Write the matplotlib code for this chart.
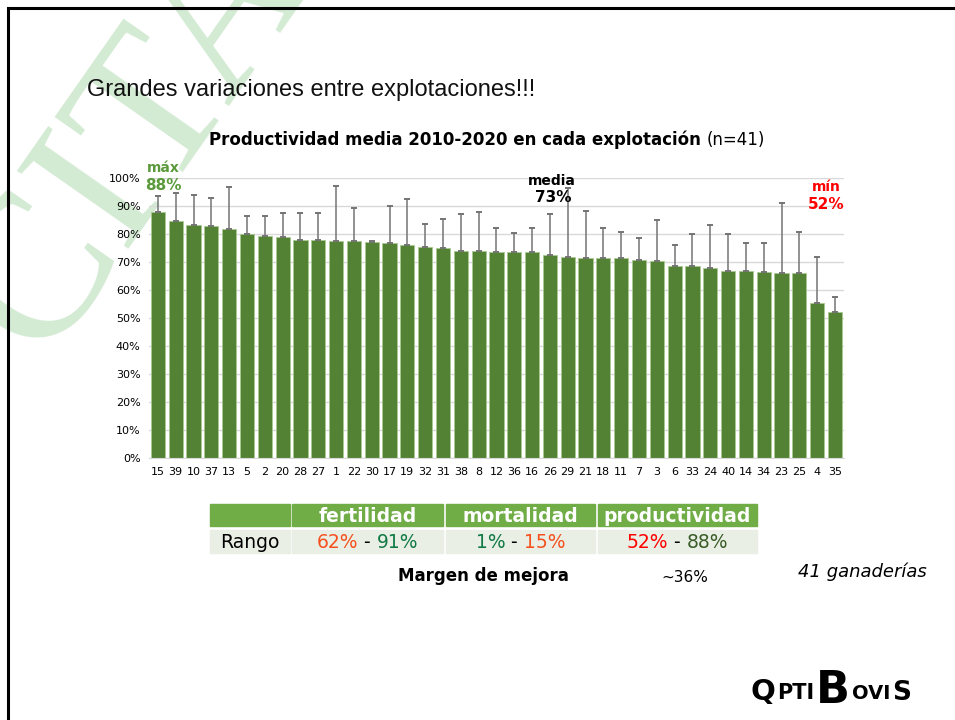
import matplotlib
matplotlib.use('Agg')
import matplotlib.pyplot as plt
from matplotlib.patches import Rectangle
from matplotlib.ticker import FuncFormatter

# datos
explotaciones = ['15', '39', '10', '37', '13', '5', '2', '20', '28', '27', '1', '22', '30',
                 '17', '19', '32', '31', '38', '8', '12', '36', '16', '26', '29', '21', '18',
                 '11', '7', '3', '6', '33', '24', '40', '14', '34', '23', '25', '4', '35']
productividad = [88.0, 84.8, 83.5, 83.0, 81.8, 80.2, 79.4, 79.0, 78.1, 77.9, 77.6, 77.5, 77.3,
                 76.8, 76.2, 75.4, 75.0, 74.0, 73.9, 73.8, 73.7, 73.6, 72.5, 72.0, 71.5, 71.5,
                 71.4, 71.0, 70.4, 68.8, 68.6, 68.0, 66.9, 66.8, 66.4, 66.2, 66.2, 55.4, 52.3]
desviacion = [5.6, 10.1, 10.7, 10.0, 15.1, 6.3, 7.3, 8.7, 9.4, 9.8, 19.5, 11.8, 0.2,
              13.2, 16.5, 8.4, 10.6, 13.3, 14.0, 8.6, 6.7, 8.5, 14.9, 24.4, 17.0, 10.8,
              9.4, 7.6, 14.8, 7.5, 11.4, 15.5, 13.1, 10.0, 10.4, 24.9, 14.5, 16.6, 5.4]
yticks = [0, 10, 20, 30, 40, 50, 60, 70, 80, 90, 100]

cabecera = ['fertilidad', 'mortalidad', 'productividad']
rango_min = ['62%', '1%', '52%']
rango_max = ['91%', '15%', '88%']
color_min = ['#f4511e', '#117a45', '#ff0000']
color_max = ['#117a45', '#f4511e', '#3a5d27']

W, H = 955, 720
fig = plt.figure(figsize=(9.55, 7.2), dpi=100)

def fx(px):
    return px / W

def fy(py):
    return 1 - py / H

# marco de la diapositiva
fig.patches.append(Rectangle((fx(8), fy(760)), fx(1000), fy(8) - fy(760), transform=fig.transFigure,
                             fill=False, edgecolor='black', linewidth=2.2, zorder=0))

# marca de agua
fig.text(fx(135), fy(140), 'CITA', rotation=55, fontsize=150, color='#d3ead3',
         family='Liberation Serif', ha='center', va='center', zorder=-1)

fig.text(fx(87), fy(90), 'Grandes variaciones entre explotaciones!!!', fontsize=17,
         family='Liberation Sans', va='center', ha='left', color='#111111')

# titulo del grafico
t1 = fig.text(fx(209), fy(140), 'Productividad media 2010-2020 en cada explotación ',
              fontsize=12, fontweight='bold', va='center', ha='left')
fig.canvas.draw()
r = fig.canvas.get_renderer()
bb = t1.get_window_extent(r)
fig.text(bb.x1 / W, fy(140), '(n=41)', fontsize=12, va='center', ha='left')

ax = fig.add_axes([fx(149), fy(458.3), fx(843.9 - 149), (458.3 - 178.3) / H])
ax.patch.set_alpha(0)
x = range(len(explotaciones))
ax.bar(x, productividad, width=0.8, color='#548235', edgecolor='#a9c98f', linewidth=0.6, zorder=2)
ax.errorbar(x, productividad, yerr=[[0] * len(desviacion), desviacion], fmt='none',
            ecolor='#747474', elinewidth=1.1, capsize=2.4, capthick=1.4, zorder=3)
ax.set_xlim(-0.5, len(explotaciones) - 0.5)
ax.set_ylim(0, 100)
ax.set_yticks(yticks)
ax.yaxis.set_major_formatter(FuncFormatter(lambda v, p: '%d%%' % v))
ax.set_xticks(list(x))
ax.set_xticklabels(explotaciones)
ax.tick_params(length=0, labelsize=8, pad=6)
ax.grid(axis='y', color='#d9d9d9', linewidth=1, zorder=0)
for s in ['top', 'right', 'left']:
    ax.spines[s].set_visible(False)
ax.spines['bottom'].set_color('#d9d9d9')

ax.text(0.3, 103.5, 'máx', color='#5b9a3a', fontsize=10, fontweight='bold', ha='center', va='center', clip_on=False)
ax.text(0.3, 97.5, '88%', color='#5b9a3a', fontsize=11, fontweight='bold', ha='center', va='center', clip_on=False)
ax.text(22.1, 99.0, 'media', color='black', fontsize=10, fontweight='bold', ha='center', va='center', clip_on=False)
ax.text(22.2, 93.2, '73%', color='black', fontsize=11, fontweight='bold', ha='center', va='center', clip_on=False)
ax.text(37.5, 96.8, 'mín', color='#ff0000', fontsize=10, fontweight='bold', ha='center', va='center', clip_on=False)
ax.text(37.5, 90.5, '52%', color='#ff0000', fontsize=11, fontweight='bold', ha='center', va='center', clip_on=False)

# tabla
cols = [(210, 290), (292, 443), (446, 595), (598, 757)]
for i, (a, b) in enumerate(cols):
    fig.patches.append(Rectangle((fx(a), fy(526)), fx(b - a), (526 - 504) / H, transform=fig.transFigure,
                                 color='#70ad47', zorder=1))
    fig.patches.append(Rectangle((fx(a), fy(553)), fx(b - a), (553 - 530) / H, transform=fig.transFigure,
                                 color='#e9efe5', zorder=1))
    if i > 0:
        fig.text(fx((a + b) / 2), fy(516), cabecera[i - 1], color='white', fontsize=13.5,
                 fontweight='bold', ha='center', va='center')
fig.text(fx(250), fy(542), 'Rango', fontsize=13.5, ha='center', va='center')


def texto_color(cx, cy, partes, **kw):
    objs = []
    for txt, col in partes:
        objs.append(fig.text(0, fy(cy), txt, color=col, ha='left', va='center', **kw))
    ws = [o.get_window_extent(r).width for o in objs]
    x0 = cx - sum(ws) / 2
    for o, w in zip(objs, ws):
        o.set_x(fx(x0))
        x0 += w


for i in range(3):
    a, b = cols[i + 1]
    texto_color((a + b) / 2, 542, [(rango_min[i], color_min[i]), (' - ', 'black'),
                                   (rango_max[i], color_max[i])], fontsize=13.5)

fig.text(fx(483), fy(576), 'Margen de mejora', fontsize=12, fontweight='bold', ha='center', va='center')
fig.text(fx(685), fy(577), '~36%', fontsize=11, ha='center', va='center')
fig.text(fx(862), fy(572), '41 ganaderías', fontsize=13, style='italic', ha='center', va='center')

# logo
x0 = 750
for letra, tam, base in [('Q', 21, 700), ('PTI', 15, 699), ('B', 32, 703), ('OVI', 14, 699), ('S', 19, 700)]:
    t = fig.text(fx(x0), fy(base), letra, fontsize=tam, fontweight='bold', ha='left', va='baseline')
    x0 += t.get_window_extent(r).width + 2

fig.savefig('out.png', dpi=100)
